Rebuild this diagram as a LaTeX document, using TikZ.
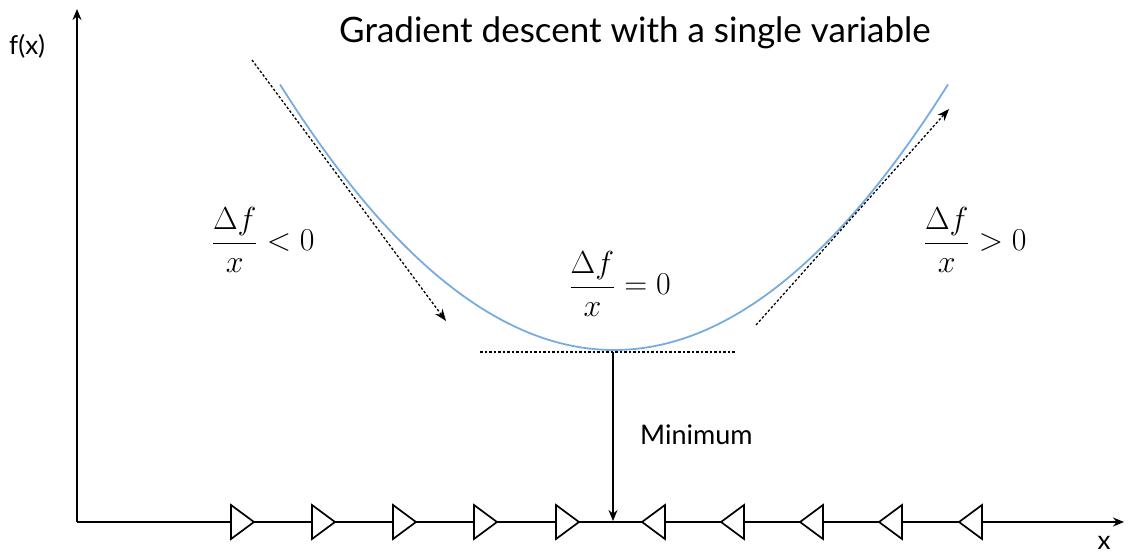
\documentclass[tikz,border=0pt]{standalone}
\usepackage{graphicx}
\usepackage{fontspec}
\setsansfont{Lato}
\usetikzlibrary{arrows.meta}
\definecolor{curveblue}{RGB}{120,172,222}
\newcommand{\bigmath}[1]{\scalebox{1.28}{\fontsize{24.88}{30}\selectfont$\displaystyle #1$}}
\tikzset{
  axis/.style={line width=1.8pt,-{Stealth[length=11pt,width=9pt]}},
  dotarrow/.style={line width=1.3pt,dash pattern=on 2.5pt off 2pt,-{Stealth[length=12pt,width=9pt]}},
  dotline/.style={line width=1.3pt,dash pattern=on 2.5pt off 2pt},
  tri/.style={line width=1.7pt,fill=white,line join=miter},
  lbl/.style={font=\sffamily\fontsize{26}{30}\selectfont,inner sep=0pt},
  mathlbl/.style={inner sep=0pt}
}
\begin{document}
\begin{tikzpicture}[x=1pt,y=-1pt]
\useasboundingbox (0,0) rectangle (1135,553);
% axes
\coordinate (O) at (77,522);
\coordinate (ytop) at (77,9);
\coordinate (xend) at (1124,522);
\draw[axis] (O) -- (ytop);
\draw[axis] (O) -- (xend);
\node[lbl,anchor=west] (fx) at (9,46) {f(x)};
\node[lbl,anchor=center] (xl) at (1104,543) {x};
% title
\node[font=\sffamily\fontsize{35}{40}\selectfont,inner sep=0pt] (title) at (635,33) {Gradient descent with a single variable};
% curve
\draw[curveblue,line width=1.8pt,domain=280:948,samples=120,smooth] plot (\x,{350-0.002375*(\x-614)*(\x-614)});
% dotted tangent arrows
\coordinate (la1) at (252,60);
\coordinate (la2) at (446,321);
\draw[dotarrow] (la1) -- (la2);
\coordinate (ra1) at (756,325);
\coordinate (ra2) at (949,109);
\draw[dotarrow] (ra1) -- (ra2);
% minimum line
\coordinate (h1) at (480,352);
\coordinate (h2) at (736,352);
\draw[dotline] (h1) -- (h2);
\coordinate (mtop) at (613,352);
\coordinate (mbot) at (613,521);
\draw[line width=1.6pt,-{Stealth[length=11pt,width=9pt]}] (mtop) -- (mbot);
\node[font=\sffamily\fontsize{27}{31}\selectfont,inner sep=0pt,anchor=west] (minl) at (640,435) {Minimum};
% triangles
\foreach \c in {231,312,393,474,556}{
  \draw[tri] (\c,505) -- (\c+23,522) -- (\c,539) -- cycle;
}
\foreach \c in {665,744,823,902,982}{
  \draw[tri] (\c,505) -- (\c-23,522) -- (\c,539) -- cycle;
}
% math labels
\node[mathlbl] (lm) at (263,240) {\bigmath{\frac{\Delta f}{x} < 0}};
\node[mathlbl] (mm) at (620,284) {\bigmath{\frac{\Delta f}{x} = 0}};
\node[mathlbl] (rm) at (975,240) {\bigmath{\frac{\Delta f}{x} > 0}};
\end{tikzpicture}
\end{document}
